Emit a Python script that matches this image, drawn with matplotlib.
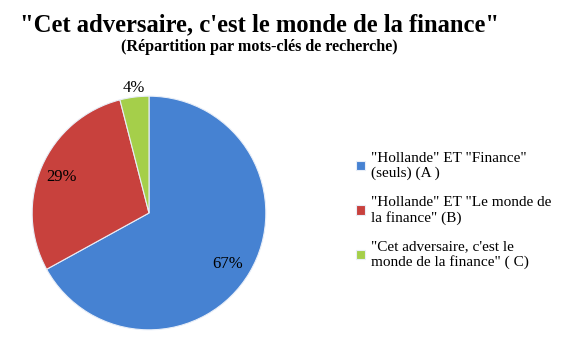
import matplotlib.pyplot as plt

labels = ['"Hollande" ET "Finance"\n(seuls) (A )',
          '"Hollande" ET "Le monde de\nla finance" (B)',
          '"Cet adversaire, c\'est le\nmonde de la finance" ( C)']
values = [67, 29, 4]
colors = ['#4682d2', '#c8413d', '#a5cf4a']

plt.rcParams['font.family'] = ['Liberation Serif', 'DejaVu Serif']

fig = plt.figure(figsize=(5.62, 3.39), dpi=100)
ax = fig.add_axes([31 / 562, 8 / 339, 236 / 562, 236 / 339])

wedges, texts = ax.pie(values, colors=colors, startangle=90, counterclock=False,
                       wedgeprops=dict(edgecolor='#e8eef8', linewidth=0.8))
ax.set_xlim(-1.01, 1.01)
ax.set_ylim(-1.01, 1.01)
ax.set_aspect('equal')

# percent labels
pos = [(0.67, -0.44), (-0.75, 0.31), (-0.13, 1.07)]
for v, (x, y) in zip(values, pos):
    ax.text(x, y, f'{v}%', ha='center', va='center', fontsize=12, clip_on=False)

fig.text(259 / 562, 1 - 25 / 339, '"Cet adversaire, c\'est le monde de la finance"',
         ha='center', va='center', fontsize=17.7, fontweight='bold')
fig.text(259 / 562, 1 - 47 / 339, '(Répartition par mots-clés de recherche)',
         ha='center', va='center', fontsize=11.6, fontweight='bold')

leg = fig.legend(wedges, labels, loc='upper left', bbox_to_anchor=(356 / 562, 1 - 152 / 339),
                 frameon=False, fontsize=11, handlelength=0.6, handleheight=0.6,
                 handletextpad=0.4, labelspacing=1.05, borderaxespad=0, borderpad=0)
for t in leg.get_texts():
    t.set_linespacing(1.15)

fig.savefig('out.png', dpi=100)
